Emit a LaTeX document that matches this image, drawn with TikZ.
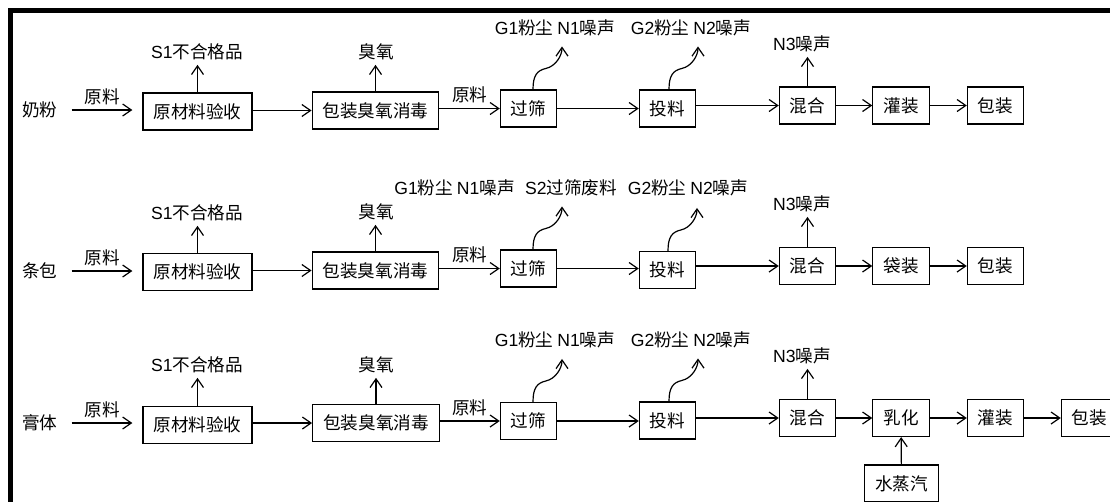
\documentclass[tikz,border=0pt]{standalone}
\usepackage{fontspec}
\setmainfont{Liberation Sans}
\newfontfamily\zh{Noto Sans CJK SC}
\newfontfamily\en{Liberation Sans}
\usetikzlibrary{arrows.meta,calc}
\tikzset{
  box/.style={draw, line width=0.9pt, inner xsep=7.9pt, minimum height=27.7pt},
  arr/.style={line width=0.9pt, -{Straight Barb[length=6.5pt,width=9pt]}},
  lbl/.style={inner sep=3.5pt}
}
\begin{document}
\begin{tikzpicture}[x=0.75pt, y=-0.75pt, every node/.style={font=\zh\fontsize{13.2pt}{15pt}\selectfont}]
\useasboundingbox (0,0) rectangle (1110,501);
\clip (0,0) rectangle (1110,501);
\draw[line width=3.2pt] (10.5,520) -- (10.5,10.5) -- (1130,10.5);

\node (m0) at (40,110) {奶粉};
\node[box] (m1) at (197.5,111.5) {原材料验收};
\node[box] (m2) at (375.5,110.5) {包装臭氧消毒};
\node[box] (m3) at (528.5,108.5) {过筛};
\node[box] (m4) at (667.5,108.5) {投料};
\node[box] (m5) at (807.5,105.5) {混合};
\node[box] (m6) at (901,105.5) {灌装};
\node[box] (m7) at (995.5,105.5) {包装};
\node (m1s) at (197,52) {{\en S1}不合格品};
\node (m2s) at (376,52) {臭氧};
\node (m3s) at (555,28) {{\en G1}粉尘 {\en N1}噪声};
\node (m4s) at (691,28) {{\en G2}粉尘 {\en N2}噪声};
\node (m5s) at (802,44) {{\en N3}噪声};
\draw[arr, shorten <=7pt, shorten >=7.5pt] (m0) -- node[lbl, above] {原料} (m0 -| m1.west);
\draw[arr] (m1.east |- m2) -- (m2);
\draw[arr] (m2.east |- m3) -- node[lbl, above] {原料} (m3);
\draw[arr] (m3) -- (m4);
\draw[arr] (m4.east |- m5) -- (m5);
\draw[arr] (m5) -- (m6);
\draw[arr] (m6) -- (m7);
\draw[arr] (m1) -- (m1.north |- m1s.south);
\draw[arr] (m2) -- (m2.north |- m2s.south);
\draw[arr] (m5) -- (m5.north |- m5s.south);
\draw[arr] ($(m3.north)+(4.5,0)$) .. controls +(0,-14) and +(-9,2) .. ++(13,-21) .. controls +(9,-2) and +(0,10) .. ++(16,-22);
\draw[arr] ($(m4.north)+(1.5,0)$) .. controls +(0,-14) and +(-9,2) .. ++(13,-21) .. controls +(9,-2) and +(0,10) .. ++(16,-22);

\node (t0) at (40,271) {条包};
\node[box] (t1) at (197.5,272) {原材料验收};
\node[box] (t2) at (375.5,270.5) {包装臭氧消毒};
\node[box] (t3) at (528.5,268.5) {过筛};
\node[box] (t4) at (667.5,270) {投料};
\node[box] (t5) at (807.5,266) {混合};
\node[box] (t6) at (901,266) {袋装};
\node[box] (t7) at (995.5,266) {包装};
\node (t1s) at (197,213) {{\en S1}不合格品};
\node (t2s) at (376,212) {臭氧};
\node (t3a) at (454.5,188) {{\en G1}粉尘 {\en N1}噪声};
\node (t3s) at (571,188) {{\en S2}过筛废料};
\node (t4s) at (688,188) {{\en G2}粉尘 {\en N2}噪声};
\node (t5s) at (802,204) {{\en N3}噪声};
\draw[arr, shorten <=7pt, shorten >=7.5pt] (t0) -- node[lbl, above] {原料} (t0 -| t1.west);
\draw[arr] (t1.east |- t2) -- (t2);
\draw[arr] (t2.east |- t3) -- node[lbl, above] {原料} (t3);
\draw[arr] (t3) -- (t3 -| t4.west);
\draw[arr] (t4.east |- t5) -- (t5);
\draw[arr] (t5) -- (t6);
\draw[arr] (t6) -- (t7);
\draw[arr] (t1) -- (t1.north |- t1s.south);
\draw[arr] (t2) -- (t2.north |- t2s.south);
\draw[arr] (t5) -- (t5.north |- t5s.south);
\draw[arr] ($(t3.north)+(4.5,0)$) .. controls +(0,-14) and +(-9,2) .. ++(13,-21) .. controls +(9,-2) and +(0,10) .. ++(16,-22);
\draw[arr] ($(t4.north)+(0.5,0)$) .. controls +(0,-14) and +(-9,2) .. ++(13,-21) .. controls +(9,-2) and +(0,10) .. ++(16,-22);

\node (g0) at (40,423) {膏体};
\node[box] (g1) at (197.5,425) {原材料验收};
\node[box] (g2) at (376,423) {包装臭氧消毒};
\node[box] (g3) at (528.5,421) {过筛};
\node[box] (g4) at (667.5,420.5) {投料};
\node[box] (g5) at (807.5,418) {混合};
\node[box] (g6) at (901,418) {乳化};
\node[box] (g7) at (995.5,418) {灌装};
\node[box] (g8) at (1089.5,418) {包装};
\node[box] (g9) at (901.5,483.5) {水蒸汽};
\node (g1s) at (197,365) {{\en S1}不合格品};
\node (g2s) at (376,365) {臭氧};
\node (g3s) at (555,340) {{\en G1}粉尘 {\en N1}噪声};
\node (g4s) at (691,340) {{\en G2}粉尘 {\en N2}噪声};
\node (g5s) at (802,356) {{\en N3}噪声};
\draw[arr, shorten <=7pt, shorten >=7.5pt] (g0) -- node[lbl, above] {原料} (g0 -| g1.west);
\draw[arr] (g1.east |- g2) -- (g2);
\draw[arr] (g2.east |- g3) -- node[lbl, above] {原料} (g3);
\draw[arr] (g3) -- (g3 -| g4.west);
\draw[arr] (g4.east |- g5) -- (g5);
\draw[arr] (g5) -- (g6);
\draw[arr] (g6) -- (g7);
\draw[arr] (g7) -- (g8);
\draw[arr] (g9) -- (g6);
\draw[arr] (g1) -- (g1.north |- g1s.south);
\draw[arr] (g2) -- (g2.north |- g2s.south);
\draw[arr] (g5) -- (g5.north |- g5s.south);
\draw[arr] ($(g3.north)+(4.5,0)$) .. controls +(0,-14) and +(-9,2) .. ++(13,-21) .. controls +(9,-2) and +(0,10) .. ++(16,-22);
\draw[arr] ($(g4.north)+(1.5,0)$) .. controls +(0,-14) and +(-9,2) .. ++(13,-21) .. controls +(9,-2) and +(0,10) .. ++(16,-22);
\end{tikzpicture}
\end{document}
